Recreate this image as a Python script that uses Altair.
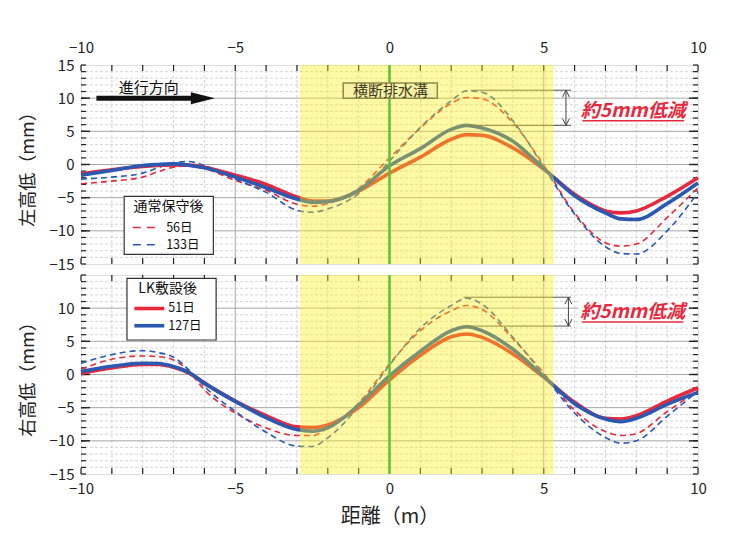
import altair as alt
import pandas as pd

FONT = "Noto Sans CJK JP"
W, H = 617, 199

X = [-10, -9, -8, -7.5, -7, -6.5, -6, -5, -4, -3, -2.5, -2, -1, 0, 1, 2, 2.5, 3, 4, 5, 6, 7, 7.5, 8, 9, 10]

# Left (top panel)
L51 = [-1.4, -0.8, -0.3, -0.15, -0.05, -0.1, -0.4, -1.6, -3.0, -4.9, -5.5, -5.5, -4.0, -1.3, 1.1, 3.8, 4.5, 4.4, 2.5, -0.7, -4.5, -7.0, -7.3, -7.0, -4.8, -2.0]
L127 = [-1.6, -0.9, -0.15, 0.0, 0.1, -0.1, -0.5, -1.9, -3.5, -5.2, -5.7, -5.6, -3.9, -0.2, 2.4, 5.3, 5.9, 5.5, 3.5, -0.6, -4.7, -7.3, -8.2, -8.3, -5.9, -2.8]
L56 = [-2.9, -2.5, -1.9, -1.1, -0.4, -0.2, -0.6, -2.4, -3.9, -6.0, -6.3, -5.9, -3.6, 1.0, 5.5, 9.2, 10.1, 9.9, 6.3, -0.1, -7.3, -11.8, -12.3, -12.0, -8.0, -3.5]
L133 = [-2.2, -1.9, -1.3, -0.5, 0.25, 0.45, -0.15, -2.2, -4.2, -6.9, -7.2, -6.7, -4.4, 0.5, 5.6, 9.6, 11.1, 10.9, 6.6, -0.4, -7.5, -12.4, -13.4, -13.5, -10.0, -4.2]

# Right (bottom panel)
R51 = [0.2, 1.0, 1.5, 1.5, 1.1, 0.2, -1.3, -4.0, -6.2, -7.9, -8.0, -7.6, -5.0, -0.8, 2.9, 5.7, 6.1, 5.6, 3.1, -0.4, -4.2, -6.6, -6.7, -6.2, -4.0, -2.0]
R127 = [0.45, 1.25, 1.7, 1.65, 1.2, 0.3, -1.3, -4.05, -6.5, -8.3, -8.55, -8.05, -4.6, -0.2, 3.5, 6.6, 7.2, 6.6, 3.8, -0.3, -4.4, -6.7, -7.1, -6.6, -4.5, -2.7]
R56 = [0.8, 2.3, 2.8, 2.7, 2.2, 0.45, -2.3, -5.8, -8.05, -9.2, -9.2, -8.05, -4.3, 1.6, 6.6, 9.6, 10.4, 9.8, 5.4, 0.2, -5.4, -8.6, -9.2, -8.9, -5.6, -2.4]
R133 = [1.7, 3.0, 3.6, 3.3, 2.6, 0.7, -1.8, -5.55, -8.7, -10.8, -10.85, -9.55, -4.8, 1.4, 7.0, 10.4, 11.5, 10.6, 5.6, -0.1, -5.8, -9.5, -10.35, -10.0, -6.3, -2.5]

RED = "#e8283c"
BLUE = "#2b58b0"

X_LABELS = [-10, -5, 0, 5, 10]
Y_TOP_LABELS = [-15, -10, -5, 0, 5, 10, 15]
Y_BOT_LABELS = [-15, -10, -5, 0, 5, 10]

DRAIN = [-2.9, 5.32]

# annotation: [x_start_upper, x_start_lower, x_end, y_upper, y_lower, arrow_x, text_x, text_y]
ANN_TOP = [2.64, 2.43, 5.88, 11.2, 5.9, 5.72, 7.9, 8.1]
ANN_BOT = [2.40, 2.43, 5.88, 11.65, 7.3, 5.8, 7.88, 9.4]
ANN_TEXT = "約5mm低減"

xs = alt.Scale(domain=[-10, 10], nice=False, zero=False)
ys = alt.Scale(domain=[-15, 15], nice=False, zero=False)


def series_df(names, ylists):
    rows = []
    for n, yl in zip(names, ylists):
        for xv, yv in zip(X, yl):
            rows.append({"x": xv, "y": yv, "s": n})
    return pd.DataFrame(rows)


def make_panel(top, solid, dashed, ann, legend):
    common = dict(ticks=False, domain=False, grid=False, labelFontSize=15, labelFont=FONT,
                  labelColor="#222", labelFlush=False, labelOverlap=False)
    ytitle = dict(titleFont=FONT, titleFontSize=18, titleFontWeight="normal", titlePadding=12,
                  titleColor="#222")
    if top:
        xaxis = alt.Axis(orient="top", values=X_LABELS, title=None, labelPadding=10, **common)
        yaxis = alt.Axis(values=Y_TOP_LABELS, title="左高低（mm）", labelPadding=7, **common, **ytitle)
    else:
        xaxis = alt.Axis(orient="bottom", values=X_LABELS, title="距離（m）", labelPadding=7,
                         titleFont=FONT, titleFontSize=20, titleFontWeight="normal", titlePadding=10,
                         titleColor="#222", **common)
        yaxis = alt.Axis(values=Y_BOT_LABELS, title="右高低（mm）", labelPadding=7, **common, **ytitle)

    def XE(f="x"):
        return alt.X(f"{f}:Q", scale=xs, axis=xaxis)

    def YE(f="y"):
        return alt.Y(f"{f}:Q", scale=ys, axis=yaxis)

    layers = []

    minor_x = pd.DataFrame({"x": [i for i in range(-9, 10) if i % 5]})
    major_x = pd.DataFrame({"x": [-5, 0, 5]})
    minor_y = pd.DataFrame({"y": [i for i in range(-14, 15) if i % 5]})
    major_y = pd.DataFrame({"y": [-10, -5, 0, 5, 10]})

    layers.append(alt.Chart(minor_x).mark_rule(color="#c9c9c9", strokeWidth=0.8, strokeDash=[3, 2]).encode(x=XE()))
    layers.append(alt.Chart(minor_y).mark_rule(color="#c9c9c9", strokeWidth=0.8, strokeDash=[3, 2]).encode(y=YE()))
    layers.append(alt.Chart(major_x).mark_rule(color="#a8a8a8", strokeWidth=1).encode(x=XE()))
    layers.append(alt.Chart(major_y).mark_rule(color="#a8a8a8", strokeWidth=1).encode(y=YE()))

    # ticks (inward)
    all_x = pd.DataFrame({"x": list(range(-10, 11))})
    tk = alt.Chart(all_x).mark_rule(color="#222", strokeWidth=1.2)
    layers.append(tk.encode(x=XE(), y=alt.value(0), y2=alt.value(6)))
    layers.append(tk.encode(x=XE(), y=alt.value(H), y2=alt.value(H - 6)))
    all_y = pd.DataFrame({"y": list(range(-15, 16))})
    tky = alt.Chart(all_y).mark_rule(color="#222", strokeWidth=1.2)
    layers.append(tky.encode(y=YE(), x=alt.value(0), x2=alt.value(5)))
    layers.append(tky.encode(y=YE(), x=alt.value(W), x2=alt.value(W - 5)))
    tky5 = alt.Chart(major_y).mark_rule(color="#222", strokeWidth=1.4)
    layers.append(tky5.encode(y=YE(), x=alt.value(0), x2=alt.value(9)))
    layers.append(tky5.encode(y=YE(), x=alt.value(W), x2=alt.value(W - 9)))

    # dashed lines
    ddf = series_df(dashed[0], dashed[1])
    layers.append(alt.Chart(ddf).mark_line(interpolate="monotone", strokeWidth=1.6, strokeDash=[6, 4]).encode(
        x=XE(), y=YE(), detail="s:N",
        color=alt.Color("s:N", scale=alt.Scale(domain=dashed[0], range=[RED, BLUE]), legend=None)))
    sdf = series_df(solid[0], solid[1])
    layers.append(alt.Chart(sdf).mark_line(interpolate="monotone", strokeWidth=3.6).encode(
        x=XE(), y=YE(), detail="s:N",
        color=alt.Color("s:N", scale=alt.Scale(domain=solid[0], range=[RED, BLUE]), legend=None)))

    # annotation rules
    adf = pd.DataFrame({"x": [ann[0], ann[1]], "x2": [ann[2], ann[2]], "y": [ann[3], ann[4]]})
    layers.append(alt.Chart(adf).mark_rule(color="#555", strokeWidth=1).encode(x=XE(), x2="x2:Q", y=YE()))
    arr = pd.DataFrame({"x": [ann[5]], "y": [ann[3]], "y2": [ann[4]]})
    layers.append(alt.Chart(arr).mark_rule(color="#444", strokeWidth=1).encode(x=XE(), y=YE(), y2="y2:Q"))
    layers.append(alt.Chart(pd.DataFrame({"x": [ann[5]], "y": [ann[3]]})).mark_point(
        shape="M -0.5 1 L 0 0 L 0.5 1", size=196, filled=False, color="#444", strokeWidth=1, opacity=1).encode(x=XE(), y=YE()))
    layers.append(alt.Chart(pd.DataFrame({"x": [ann[5]], "y": [ann[4]]})).mark_point(
        shape="M -0.5 -1 L 0 0 L 0.5 -1", size=196, filled=False, color="#444", strokeWidth=1, opacity=1).encode(x=XE(), y=YE()))

    # drain overlay
    layers.append(alt.Chart(pd.DataFrame({"x": [DRAIN[0]], "x2": [DRAIN[1]]})).mark_rect(
        color="#ffee10", opacity=0.38).encode(x=XE(), x2="x2:Q", y=alt.value(0), y2=alt.value(H)))
    layers.append(alt.Chart(pd.DataFrame({"x": [0]})).mark_rule(color="#5cbf3a", strokeWidth=2.5).encode(x=XE()))

    # red annotation text
    tx, ty = ann[6], ann[7]
    layers.append(alt.Chart(pd.DataFrame({"x": [tx - 1.75], "x2": [tx + 1.8], "y": [ty - 1.7], "y2": [ty + 1.7]})).mark_rect(
        color="white").encode(x=XE(), x2="x2:Q", y=YE(), y2="y2:Q"))
    layers.append(alt.Chart(pd.DataFrame({"x": [tx], "y": [ty], "t": [ANN_TEXT]})).mark_text(
        font=FONT, fontSize=19, fontWeight="bold", fontStyle="italic", color=RED).encode(x=XE(), y=YE(), text="t:N"))
    layers.append(alt.Chart(pd.DataFrame({"x": [tx - 1.65], "x2": [tx + 1.65], "y": [ty - 1.5]})).mark_rule(
        color=RED, strokeWidth=1.5).encode(x=XE(), x2="x2:Q", y=YE()))

    if top:
        # drain label box
        layers.append(alt.Chart(pd.DataFrame({"x": [-1.5], "x2": [1.55], "y": [10.0], "y2": [12.3]})).mark_rect(
            color="#f7f1a6", stroke="#8c8a45", strokeWidth=1.5).encode(x=XE(), x2="x2:Q", y=YE(), y2="y2:Q"))
        layers.append(alt.Chart(pd.DataFrame({"x": [0.03], "y": [11.15], "t": ["横断排水溝"]})).mark_text(
            font=FONT, fontSize=15, color="#3d3d1f").encode(x=XE(), y=YE(), text="t:N"))
        # travel direction
        layers.append(alt.Chart(pd.DataFrame({"x": [-7.8], "y": [11.5], "t": ["進行方向"]})).mark_text(
            font=FONT, fontSize=15, color="#111").encode(x=XE(), y=YE(), text="t:N"))
        layers.append(alt.Chart(pd.DataFrame({"x": [-9.5], "x2": [-6.4], "y": [10.0]})).mark_rule(
            color="#111", strokeWidth=5).encode(x=XE(), x2="x2:Q", y=YE()))
        layers.append(alt.Chart(pd.DataFrame({"x": [-6.05], "y": [10.0]})).mark_point(
            shape="M -1 -0.5 L 1 0 L -1 0.5 Z", size=576, filled=True, color="#111", opacity=1).encode(x=XE(), y=YE()))

    # legend
    lg = legend
    layers.append(alt.Chart(pd.DataFrame({"x": [lg["x0"]], "x2": [lg["x1"]], "y": [lg["y0"]], "y2": [lg["y1"]]})).mark_rect(
        color="white", stroke="#333", strokeWidth=1.2).encode(x=XE(), x2="x2:Q", y=YE(), y2="y2:Q"))
    layers.append(alt.Chart(pd.DataFrame({"x": [lg["tx"]], "y": [lg["ty"]], "t": [lg["title"]]})).mark_text(
        font=FONT, fontSize=14, color="#111").encode(x=XE(), y=YE(), text="t:N"))
    ldf = pd.DataFrame({"x": [lg["sx0"]] * 2, "x2": [lg["sx1"]] * 2, "y": lg["iy"], "s": lg["names"]})
    if lg["dashed"]:
        samp = alt.Chart(ldf).mark_rule(strokeWidth=1.6, strokeDash=[8, 6])
    else:
        samp = alt.Chart(ldf).mark_rule(strokeWidth=3.6)
    layers.append(samp.encode(x=XE(), x2="x2:Q", y=YE(),
                              color=alt.Color("s:N", scale=alt.Scale(domain=lg["names"], range=[RED, BLUE]), legend=None)))
    layers.append(alt.Chart(pd.DataFrame({"x": [lg["lx"]] * 2, "y": lg["iy"], "t": lg["names"]})).mark_text(
        font=FONT, fontSize=12.5, color="#111", align="left").encode(x=XE(), y=YE(), text="t:N"))

    return alt.layer(*layers).properties(width=W, height=H)


legend_top = {"x0": -8.6, "x1": -5.71, "y0": -4.8, "y1": -13.55, "tx": -7.16, "ty": -6.4,
              "title": "通常保守後", "sx0": -8.32, "sx1": -7.41, "lx": -7.24, "iy": [-9.5, -12.1],
              "names": ["56日", "133日"], "dashed": True}
legend_bot = {"x0": -8.51, "x1": -5.62, "y0": 14.5, "y1": 5.2, "tx": -7.19, "ty": 12.95,
              "title": "LK敷設後", "sx0": -8.27, "sx1": -7.3, "lx": -7.17, "iy": [9.95, 7.35],
              "names": ["51日", "127日"], "dashed": False}

top = make_panel(True, (["51日", "127日"], [L51, L127]), (["56日", "133日"], [L56, L133]), ANN_TOP, legend_top)
bot = make_panel(False, (["51日", "127日"], [R51, R127]), (["56日", "133日"], [R56, R133]), ANN_BOT, legend_bot)

chart = alt.vconcat(top, bot, spacing=0).properties(
    padding={"left": 10, "top": 31, "right": 10, "bottom": 5}
).configure_view(stroke="#111", strokeWidth=1.6).configure(background="white")

chart.save("out.html", embed_options={"renderer": "svg", "actions": False})
